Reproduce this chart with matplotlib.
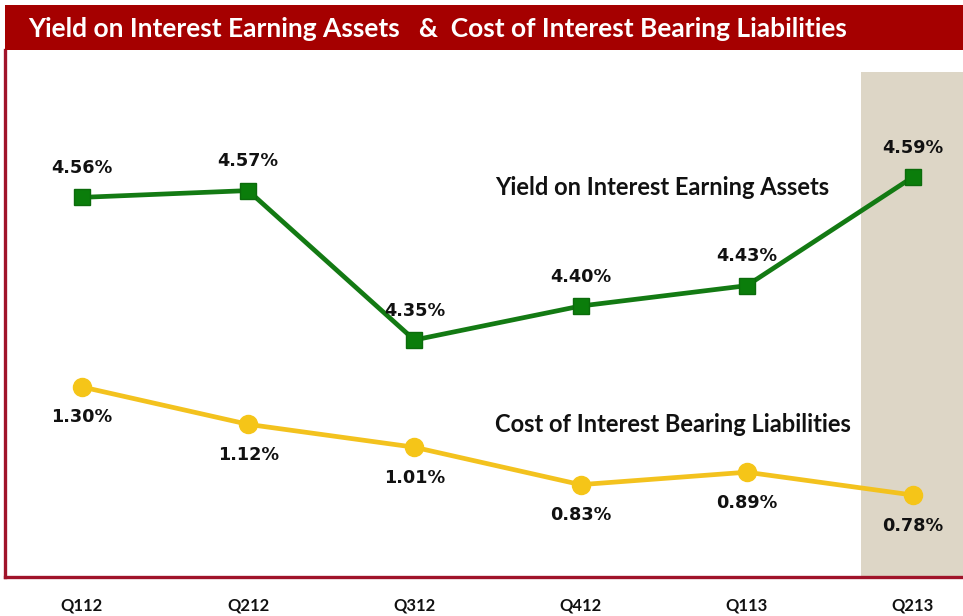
import matplotlib
matplotlib.use('Agg')
import matplotlib.pyplot as plt
from matplotlib.patches import Rectangle

quarters = ['Q112', 'Q212', 'Q312', 'Q412', 'Q113', 'Q213']
yield_assets = [4.56, 4.57, 4.35, 4.40, 4.43, 4.59]
cost_liab = [1.30, 1.12, 1.01, 0.83, 0.89, 0.78]

plt.rcParams['font.family'] = ['Lato', 'DejaVu Sans']
plt.rcParams['font.weight'] = 'bold'

W, H = 963, 616
fig = plt.figure(figsize=(W / 100, H / 100), dpi=100)

# title bar
fig.patches.append(Rectangle((5 / W, 1 - 50 / H), 1, 45 / H, transform=fig.transFigure,
                             facecolor='#a50000', edgecolor='none'))
fig.text(28 / W, 1 - 29 / H, 'Yield on Interest Earning Assets   &  Cost of Interest Bearing Liabilities',
         color='white', fontsize=19, fontweight='bold', va='center', ha='left')

x = list(range(len(quarters)))
ax = fig.add_axes([5 / W, (H - 577) / H, 965 / W, 527 / H])
ax2 = ax.twinx()

ax.set_xlim(-0.463, 5.343)
ax.set_ylim(4.001, 4.777)
ax2.set_ylim(0.386, 2.920)

ax.axvspan(4.687, 5.343, ymin=0, ymax=0.958, color='#ddd6c6', lw=0, zorder=0)

ax.plot(x, yield_assets, color='#137a13', lw=3.4, marker='s', ms=12,
        markerfacecolor='#0b7d0b', markeredgecolor='#0b6b0b', zorder=3)
ax2.plot(x, cost_liab, color='#f3c21e', lw=3.4, marker='o', ms=13,
         markerfacecolor='#f5c518', markeredgecolor='#f5c518', zorder=3)

lab = dict(ha='center', va='center', fontsize=12.7, fontweight='bold', color='#111111',
           family='DejaVu Sans')
for xi, v in zip(x, yield_assets):
    ax.annotate(f'{v:.2f}%', (xi, v), xytext=(0, 21), textcoords='offset points', **lab)
for xi, v in zip(x, cost_liab):
    ax2.annotate(f'{v:.2f}%', (xi, v), xytext=(0, -22), textcoords='offset points', **lab)

ax.text(0.508, 0.740, 'Yield on Interest Earning Assets', transform=ax.transAxes,
        ha='left', va='center', fontsize=17, fontweight='bold', color='#111111')
ax.text(0.508, 0.290, 'Cost of Interest Bearing Liabilities', transform=ax.transAxes,
        ha='left', va='center', fontsize=17, fontweight='bold', color='#111111')

ax.set_xticks(x)
ax.set_xticklabels(quarters, fontsize=12, fontweight='bold', color='#111111')
ax.tick_params(axis='x', length=0, pad=15)
ax.set_yticks([])
ax2.set_yticks([])

for a in (ax, ax2):
    for s in ('top', 'right'):
        a.spines[s].set_visible(False)
    for s in ('left', 'bottom'):
        a.spines[s].set_color('#a0142a')
        a.spines[s].set_linewidth(2.4)
ax2.spines['left'].set_visible(False)
ax2.spines['bottom'].set_visible(False)

fig.savefig('out.png', dpi=100, facecolor='white')
